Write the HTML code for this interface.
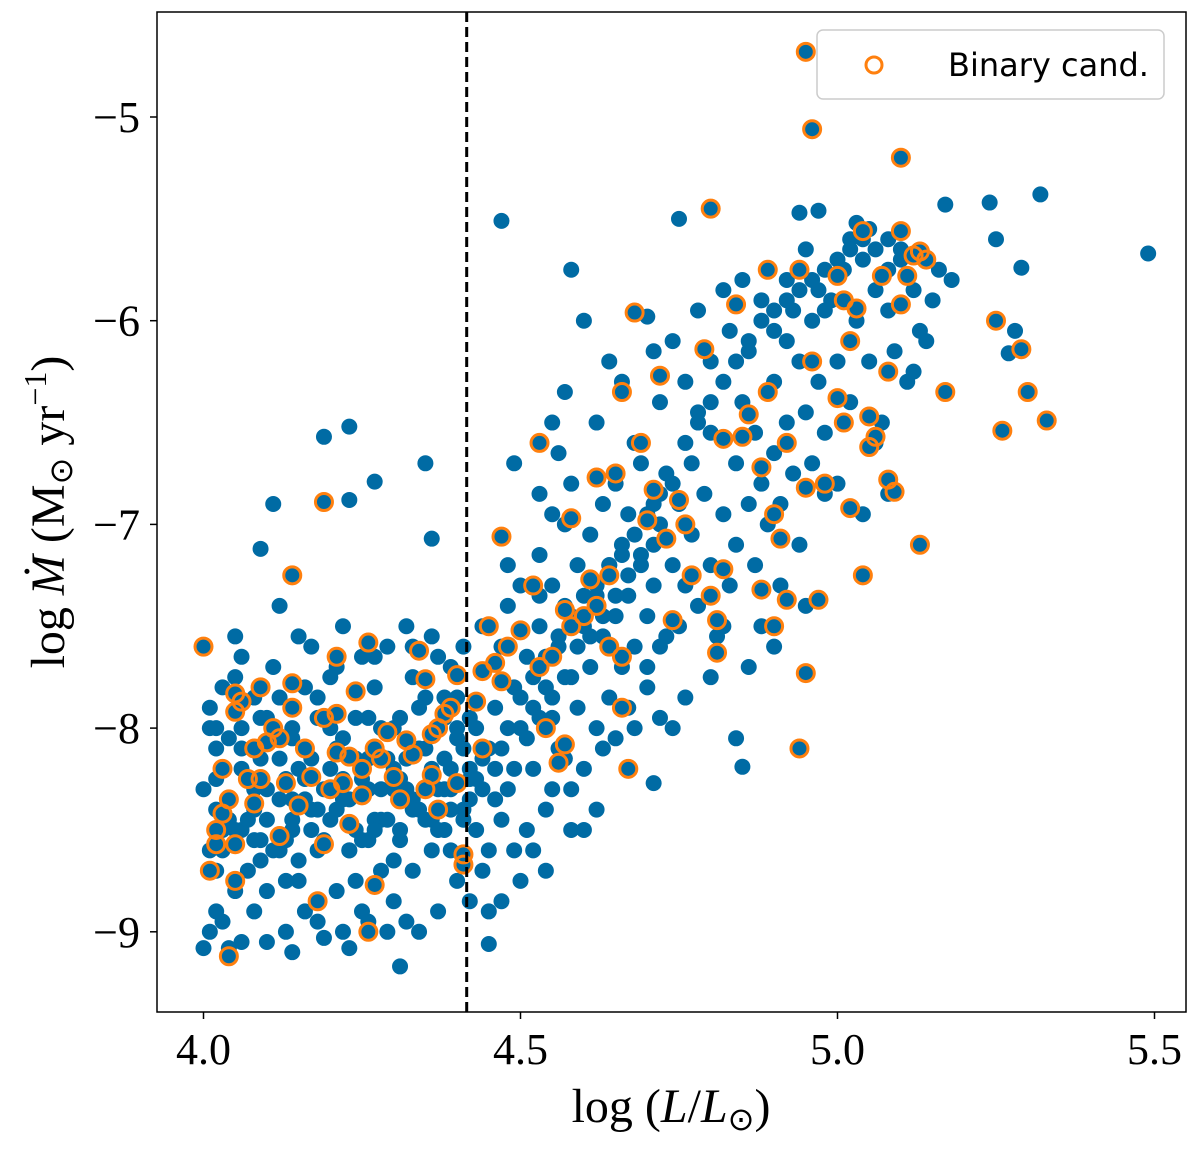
<!DOCTYPE html>
<html><head><meta charset="utf-8"><style>
body{margin:0;background:#fff}
svg text{font-family:"Liberation Serif",serif;fill:#000}
</style></head><body>
<svg id="chart" width="1200" height="1146" xmlns="http://www.w3.org/2000/svg">
<g id="ticks"></g>
<g id="pts"></g>
<line x1="466.7" y1="12" x2="466.7" y2="1012" stroke="#000" stroke-width="3" stroke-dasharray="10,5"/>
<rect x="157" y="12" width="1029" height="1000" fill="none" stroke="#000" stroke-width="1.5"/>
<g>
<rect x="817" y="30" width="347" height="69" rx="6" fill="#fff" fill-opacity="0.8" stroke="#ccc" stroke-width="1.5"/>
<circle cx="874" cy="65" r="8" fill="none" stroke="#FF800E" stroke-width="3"/>
<text x="948" y="76" font-size="32" style="font-family:'DejaVu Sans','Liberation Sans',sans-serif">Binary cand.</text>
</g>
<text x="671" y="1122" font-size="48" text-anchor="middle">log (<tspan font-style="italic">L</tspan>/<tspan font-style="italic">L</tspan><tspan font-size="32" dy="8">⊙</tspan><tspan dy="-8">)</tspan></text>
<text transform="translate(64,512) rotate(-90)" font-size="48" text-anchor="middle">log <tspan font-style="italic">Ṁ</tspan> (M<tspan font-size="32" dy="8">⊙</tspan><tspan dy="-8"> yr</tspan><tspan font-size="32" dy="-18">−1</tspan><tspan dy="18">)</tspan></text>
</svg>
<script>
const xTicks=[4.0,4.5,5.0,5.5];
const xTickLabels=["4.0","4.5","5.0","5.5"];
const yTicks=[-5,-6,-7,-8,-9];
const yTickLabels=["−5","−6","−7","−8","−9"];
const blueX=[4.09,4.11,4.19,4.23,4.23,4.27,4.35,4.36,4.47,4.58,4.75,4.49,4.55,4.56,4.53,5.49,5.32,5.25,5.24,5.29,5.17,5.27,5.28,5.18,4.97,4.94,5.03,4.84,4.85,4.71,4.45,4.31,4.14,4.04,4.0,
4.00,4.01,4.01,4.02,4.02,4.01,4.02,4.03,4.01,4.03,4.04,4.05,4.05,4.06,4.06,4.07,4.06,4.08,4.08,4.09,4.09,4.1,4.1,4.11,4.12,4.12,4.13,4.13,4.14,4.15,4.15,4.16,4.16,4.17,4.17,4.18,4.18,4.19,4.2,4.2,4.21,4.21,4.22,4.22,4.23,4.23,4.24,4.24,4.25,4.25,4.26,4.27,4.27,4.28,4.28,4.29,4.29,4.3,4.3,4.31,4.31,4.32,4.32,4.33,4.33,4.34,4.34,4.35,4.35,4.36,4.36,4.37,4.37,4.38,4.38,4.39,4.39,4.4,4.4,4.41,4.41,4.42,4.42,4.43,4.43,4.44,4.44,4.45,4.45,4.03,4.04,4.07,4.08,4.11,4.12,4.14,4.15,4.17,4.19,4.21,4.23,4.25,4.26,4.28,4.29,4.31,4.33,4.35,4.36,4.38,4.39,4.41,4.42,4.09,4.13,4.18,4.22,4.26,4.3,4.02,4.05,4.1,4.16,4.2,4.27,4.33,4.37,4.4,4.06,4.08,4.03,4.12,4.14,4.24,4.32,4.39,4.44,4.45,
4.46,4.47,4.47,4.48,4.48,4.49,4.5,4.5,4.51,4.51,4.52,4.52,4.53,4.53,4.54,4.54,4.55,4.55,4.56,4.56,4.57,4.57,4.58,4.58,4.59,4.59,4.6,4.6,4.61,4.61,4.62,4.62,4.63,4.63,4.64,4.64,4.65,4.65,4.66,4.66,4.67,4.67,4.68,4.68,4.69,4.69,4.7,4.7,4.71,4.71,4.72,4.72,4.73,4.74,4.75,4.75,4.76,4.77,4.77,4.78,4.79,4.8,4.8,4.81,4.82,4.83,4.84,4.84,4.85,4.86,4.87,4.87,4.88,4.89,4.9,4.9,4.91,4.92,4.92,4.93,4.94,4.95,4.96,4.96,4.97,4.98,4.99,5.0,5.0,5.01,5.02,5.03,5.04,5.05,5.06,5.07,5.08,5.09,5.1,5.11,5.12,5.13,5.15,5.16,4.46,4.48,4.49,4.52,4.55,4.57,4.6,4.63,4.65,4.67,4.7,4.73,4.62,4.58,4.54,4.5,4.47,
4.6,4.62,4.64,4.66,4.7,4.71,4.72,4.74,4.76,4.78,4.8,4.82,4.83,4.85,4.86,4.88,4.9,4.92,4.93,4.95,4.97,4.98,5.02,5.05,5.08,5.12,5.14,5.06,5.08,5.04,4.98,4.94,4.91,4.88,4.86,4.8,4.76,4.72,4.74,4.82,4.9,4.95,4.78,4.68,4.58,4.55,4.53,4.57,
4.02,4.04,4.06,4.08,4.1,4.12,4.14,4.16,4.18,4.2,4.22,4.24,4.26,4.28,4.3,4.32,4.34,4.36,4.38,4.4,4.42,4.44,4.03,4.05,4.07,4.09,4.11,4.13,4.15,4.17,4.19,4.21,4.23,4.25,4.27,4.29,4.31,4.33,4.35,4.37,4.39,4.41,4.43,4.02,4.06,4.1,4.14,4.18,4.22,4.26,4.3,4.34,4.38,4.42,
4.46,4.48,4.5,4.52,4.54,4.56,4.58,4.6,4.62,4.64,4.66,4.68,4.7,4.72,4.74,4.47,4.49,4.51,4.53,4.55,4.57,4.59,4.61,4.63,4.65,4.67,4.69,4.71,4.76,4.78,4.8,4.82,4.84,4.86,4.88,4.9,4.92,4.94,4.96,4.98,5.0,5.02,5.04,5.06,5.08,5.1];
const blueY=[-7.12,-6.9,-6.57,-6.52,-6.88,-6.79,-6.7,-7.07,-5.51,-5.75,-5.5,-6.7,-6.5,-6.65,-6.85,-5.67,-5.38,-5.6,-5.42,-5.74,-5.43,-6.16,-6.05,-5.8,-5.46,-5.47,-5.52,-8.05,-8.19,-8.27,-9.06,-9.17,-9.1,-9.08,-9.08,
-8.3,-8.0,-7.9,-8.1,-8.4,-8.6,-8.9,-8.95,-9.0,-8.2,-8.35,-7.75,-7.55,-8.0,-8.5,-8.7,-9.05,-8.9,-8.3,-8.15,-7.95,-8.45,-8.8,-7.7,-7.4,-8.6,-8.25,-9.0,-8.0,-7.55,-8.75,-8.35,-8.9,-7.6,-8.15,-8.6,-7.85,-9.03,-8.45,-8.0,-7.7,-8.8,-7.5,-8.25,-8.6,-9.08,-7.95,-8.5,-8.9,-7.65,-8.15,-8.45,-7.8,-8.7,-8.0,-9.0,-7.6,-8.3,-8.85,-7.95,-8.55,-7.5,-8.15,-8.7,-7.75,-8.4,-9.0,-8.1,-7.85,-8.6,-7.55,-8.3,-8.9,-7.95,-8.5,-7.7,-8.2,-8.75,-8.0,-8.4,-7.6,-8.2,-8.85,-8.0,-8.5,-8.3,-7.5,-8.6,-8.1,-8.5,-8.05,-8.25,-8.55,-8.05,-8.35,-8.5,-8.2,-8.4,-8.3,-8.1,-8.35,-8.25,-8.55,-8.3,-8.15,-8.25,-8.35,-8.3,-8.45,-8.15,-8.4,-8.1,-8.35,-8.65,-8.75,-8.95,-9.0,-8.95,-8.65,-8.7,-8.8,-9.05,-7.8,-7.75,-7.65,-7.6,-7.65,-7.85,-7.65,-7.85,-7.8,-7.85,-8.45,-8.75,-8.95,-8.6,-8.7,-8.9,
-7.9,-8.1,-7.6,-8.3,-7.4,-7.8,-8.0,-7.3,-8.5,-7.65,-7.9,-8.2,-7.15,-7.5,-7.8,-8.4,-7.3,-7.95,-7.6,-8.1,-7.0,-7.4,-7.75,-8.3,-7.2,-7.9,-7.5,-8.5,-7.05,-7.7,-7.35,-8.0,-6.9,-7.55,-7.2,-7.85,-6.8,-7.45,-7.1,-7.7,-6.95,-7.35,-7.6,-8.0,-7.15,-6.7,-7.45,-7.8,-6.9,-7.3,-7.6,-7.0,-6.75,-7.2,-7.5,-6.9,-7.3,-6.7,-7.05,-7.4,-6.85,-7.2,-6.55,-7.55,-6.95,-7.3,-6.7,-7.1,-6.4,-6.9,-7.2,-6.55,-6.8,-7.0,-6.3,-6.65,-6.9,-6.1,-6.5,-6.75,-6.2,-6.45,-6.0,-6.7,-6.3,-6.55,-5.9,-6.2,-6.8,-5.75,-6.4,-6.0,-5.7,-6.2,-5.85,-6.5,-5.95,-6.15,-5.65,-6.3,-5.85,-6.05,-5.9,-5.75,-8.35,-7.2,-8.6,-8.6,-8.3,-8.15,-8.2,-8.1,-8.05,-7.9,-7.7,-7.55,-8.4,-8.5,-8.7,-8.75,-8.85,
-6.0,-6.5,-6.2,-6.3,-5.98,-6.15,-6.4,-6.1,-6.3,-5.95,-6.2,-5.85,-6.05,-5.8,-6.15,-5.9,-6.05,-5.8,-5.95,-5.65,-5.85,-5.95,-5.6,-5.55,-5.75,-6.25,-6.1,-6.6,-6.85,-6.95,-6.85,-7.1,-7.3,-7.5,-7.7,-7.75,-7.85,-7.95,-8.0,-7.5,-7.6,-7.4,-6.45,-6.6,-6.8,-6.95,-7.35,-6.35,
-8.25,-8.45,-8.2,-8.4,-8.3,-8.15,-8.35,-8.25,-8.4,-8.2,-8.35,-8.15,-8.3,-8.45,-8.2,-8.3,-8.1,-8.2,-8.3,-8.05,-8.25,-8.15,-8.6,-8.5,-8.45,-8.55,-8.6,-8.55,-8.65,-8.5,-8.55,-8.4,-8.6,-8.55,-8.5,-8.45,-8.5,-8.4,-8.45,-8.5,-8.3,-8.45,-8.25,-8.0,-8.1,-7.95,-8.05,-7.95,-8.05,-7.95,-8.0,-7.9,-7.85,-7.95,
-8.2,-8.0,-7.85,-7.75,-7.65,-7.55,-7.45,-7.35,-7.3,-7.2,-7.15,-7.05,-6.95,-6.85,-6.8,-8.45,-8.2,-8.05,-7.95,-7.85,-7.75,-7.6,-7.55,-7.45,-7.35,-7.25,-7.2,-7.1,-6.6,-6.5,-6.4,-6.3,-6.2,-6.1,-6.0,-5.95,-5.9,-5.85,-5.8,-5.75,-5.7,-5.65,-5.6,-5.65,-5.6,-5.7];
const binX=[4.0,4.95,4.96,5.1,4.8,4.19,4.14,4.03,4.02,4.02,4.01,4.03,4.04,4.05,4.05,4.04,4.05,4.05,4.06,4.07,4.08,4.08,4.09,4.09,4.1,4.11,4.12,4.12,4.13,4.14,4.14,4.15,4.16,4.17,4.18,4.19,4.19,4.2,4.21,4.21,4.21,4.22,4.23,4.23,4.24,4.25,4.25,4.26,4.26,4.27,4.27,4.28,4.29,4.3,4.31,4.32,4.33,4.34,4.35,4.35,4.36,4.36,4.37,4.37,4.38,4.39,4.4,4.4,4.41,4.41,4.43,4.44,4.44,4.45,4.46,4.47,4.47,4.48,4.5,4.52,4.53,4.53,4.54,4.55,4.56,4.57,4.57,4.58,4.58,4.6,4.61,4.62,4.62,4.64,4.64,4.65,4.66,4.66,4.66,4.67,4.68,4.69,4.7,4.71,4.72,4.73,4.74,4.75,4.76,4.77,4.79,4.8,4.81,4.81,4.82,4.82,4.84,4.85,4.86,4.88,4.88,4.89,4.89,4.9,4.9,4.91,4.92,4.92,4.94,4.95,4.95,4.94,4.96,4.97,4.98,5.0,5.0,5.01,5.01,5.02,5.02,5.03,5.04,5.05,5.05,5.06,5.07,5.08,5.08,5.09,5.1,5.1,5.11,5.12,5.13,5.13,5.14,5.17,5.25,5.26,5.29,5.3,5.33,5.04];
const binY=[-7.6,-4.68,-5.06,-5.2,-5.45,-6.89,-7.25,-8.2,-8.5,-8.57,-8.7,-8.42,-9.12,-8.75,-8.57,-8.35,-7.92,-7.83,-7.87,-8.25,-8.1,-8.37,-8.25,-7.8,-8.07,-8.0,-8.05,-8.53,-8.27,-7.78,-7.9,-8.38,-8.1,-8.24,-8.85,-8.57,-7.95,-8.3,-8.12,-7.93,-7.65,-8.27,-8.14,-8.47,-7.82,-8.2,-8.33,-7.58,-9.0,-8.1,-8.77,-8.15,-8.02,-8.24,-8.35,-8.06,-8.13,-7.62,-7.76,-8.3,-8.23,-8.03,-8.0,-8.4,-7.93,-7.9,-7.74,-8.27,-8.62,-8.67,-7.87,-7.72,-8.1,-7.5,-7.68,-7.06,-7.77,-7.6,-7.52,-7.3,-6.6,-7.7,-8.0,-7.65,-8.17,-7.42,-8.08,-7.5,-6.97,-7.45,-7.27,-6.77,-7.4,-7.6,-7.25,-6.75,-7.65,-7.9,-6.35,-8.2,-5.96,-6.6,-6.98,-6.83,-6.27,-7.07,-7.47,-6.88,-7.0,-7.25,-6.14,-7.35,-7.47,-7.63,-6.58,-7.22,-5.92,-6.57,-6.46,-7.32,-6.72,-5.75,-6.35,-6.95,-7.5,-7.07,-6.6,-7.37,-5.75,-6.82,-7.73,-8.1,-6.2,-7.37,-6.8,-5.78,-6.38,-5.9,-6.5,-6.92,-6.1,-5.94,-7.25,-6.47,-6.62,-6.57,-5.78,-6.78,-6.25,-6.84,-5.92,-5.56,-5.78,-5.68,-5.66,-7.1,-5.7,-6.35,-6.0,-6.54,-6.14,-6.35,-6.49,-5.56];
const X0=4.0, PX0=203.5, XS=634, Y0=-5, PY0=117, YS=203.7;
function sx(v){return PX0+(v-X0)*XS;}
function sy(v){return PY0+(Y0-v)*YS;}
const NS='http://www.w3.org/2000/svg';
const T=document.getElementById('ticks'), P=document.getElementById('pts');
function mk(tag,attrs,parent){const e=document.createElementNS(NS,tag);for(const k in attrs)e.setAttribute(k,attrs[k]);parent.appendChild(e);return e;}
xTicks.forEach((v,i)=>{
 const l=mk('line',{x1:sx(v),x2:sx(v),y1:1012,y2:1019,stroke:'#000','stroke-width':1.5},T);
 
 
 const t=mk('text',{x:sx(v),y:1064,'font-size':44,'text-anchor':'middle'},T);
 
 
 t.textContent=xTickLabels[i];
});
yTicks.forEach((v,i)=>{
 const l=mk('line',{x1:150,x2:157,y1:sy(v),y2:sy(v),stroke:'#000','stroke-width':1.5},T);
 
 
 const t=mk('text',{x:140,y:sy(v)+15,'font-size':44,'text-anchor':'end'},T);
 
 
 t.textContent=yTickLabels[i];
});
blueX.forEach((v,i)=>{
 const c=mk('circle',{cx:sx(v),cy:sy(blueY[i]),r:8,fill:'#006BA4'},P);
 
 
});
binX.forEach((v,i)=>{
 const c=mk('circle',{cx:sx(v),cy:sy(binY[i]),r:8,fill:'#006BA4'},P);
 
 
});
binX.forEach((v,i)=>{
 const c=mk('circle',{cx:sx(v),cy:sy(binY[i]),r:8.5,fill:'none',stroke:'#FF800E','stroke-width':3},P);
 
 
});
</script>
</body></html>
